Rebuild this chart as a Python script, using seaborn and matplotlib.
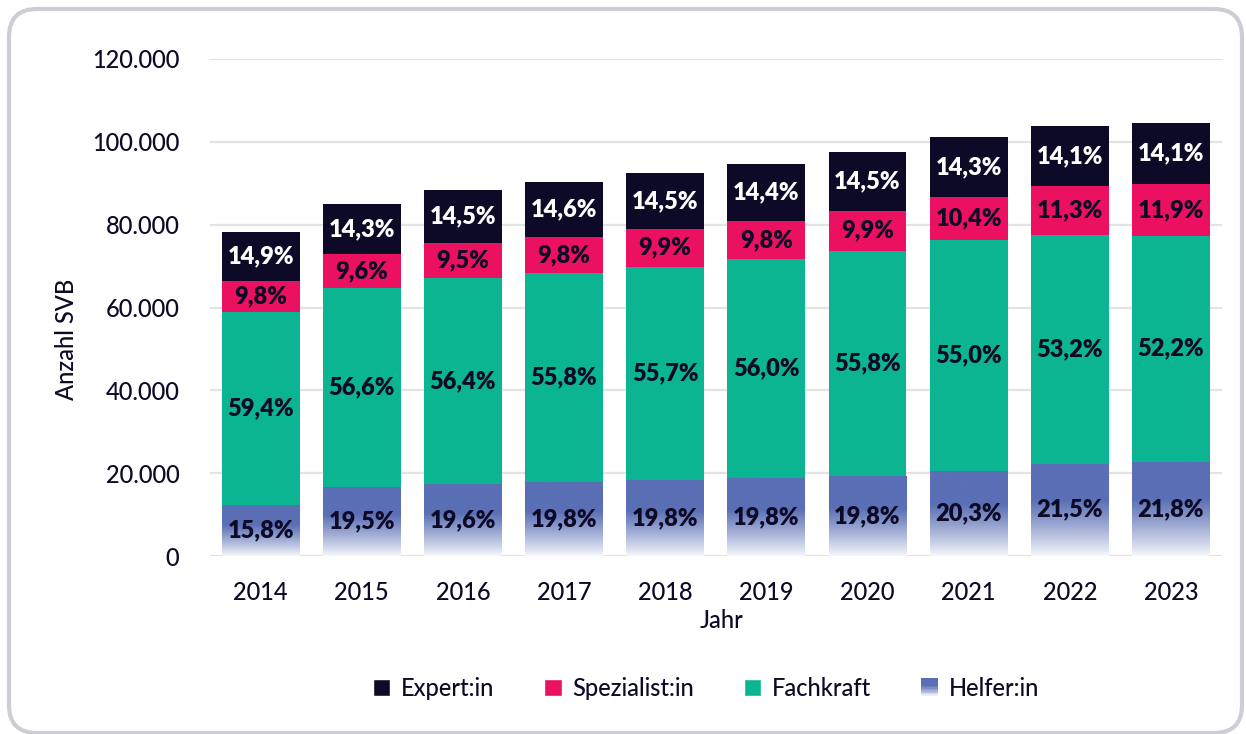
import numpy as np
import pandas as pd
import matplotlib
matplotlib.use("Agg")
import matplotlib.pyplot as plt
import seaborn as sns
from matplotlib.patches import FancyBboxPatch, Patch, Rectangle
from matplotlib.transforms import IdentityTransform
from matplotlib.colors import to_rgb
from matplotlib.legend_handler import HandlerBase

# ---------------- data ----------------
years = ["2014", "2015", "2016", "2017", "2018", "2019", "2020", "2021", "2022", "2023"]
totals = [78200, 85000, 88400, 90300, 92500, 94600, 97500, 101200, 103800, 104500]
pct_helfer = [15.8, 19.5, 19.6, 19.8, 19.8, 19.8, 19.8, 20.3, 21.5, 21.8]
pct_fachkraft = [59.4, 56.6, 56.4, 55.8, 55.7, 56.0, 55.8, 55.0, 53.2, 52.2]
pct_spezialist = [9.8, 9.6, 9.5, 9.8, 9.9, 9.8, 9.9, 10.4, 11.3, 11.9]
pct_expert = [14.9, 14.3, 14.5, 14.6, 14.5, 14.4, 14.5, 14.3, 14.1, 14.1]
series_names = ["Helfer:in", "Fachkraft", "Spezialist:in", "Expert:in"]
y_ticks = [0, 20000, 40000, 60000, 80000, 100000, 120000]

# ---------------- style ----------------
NAVY = "#0d0a26"
C_EXPERT = "#0c0a26"
C_SPEZ = "#ec1160"
C_FACH = "#0bb592"
C_HELF = "#5a6fb5"

sns.set_theme(style="white")
plt.rcParams["font.family"] = ["Lato", "DejaVu Sans"]
plt.rcParams["text.color"] = NAVY

fig = plt.figure(figsize=(12.46, 7.34), dpi=100)
ax = fig.add_axes([210 / 1246, (734 - 556) / 734, (1221.5 - 210) / 1246, (556 - 59) / 734])

pcts = [pct_helfer, pct_fachkraft, pct_spezialist, pct_expert]
colors = [C_HELF, C_FACH, C_SPEZ, C_EXPERT]
seg_vals = [[t * p / 100 for t, p in zip(totals, ps)] for ps in pcts]
cums = []
run = [0.0] * len(years)
for vals in seg_vals:
    run = [r + v for r, v in zip(run, vals)]
    cums.append(list(run))

BW = 0.77
containers = {}
for i in range(3, -1, -1):
    df = pd.DataFrame({"Jahr": years, "val": cums[i]})
    sns.barplot(data=df, x="Jahr", y="val", color=colors[i], saturation=1,
                width=BW, ax=ax, zorder=2, errorbar=None, linewidth=0, edgecolor="none")
    containers[i] = ax.containers[-1]

# gradient for Helfer bars
blue = np.array(to_rgb(C_HELF))
white = np.array([1.0, 1.0, 1.0])
n = 256
t = np.linspace(0, 1, n)  # 0 bottom -> 1 top
f = np.clip(t / 0.6, 0, 1) ** 0.9
f = 0.04 + 0.96 * f
grad = (white[None, :] * (1 - f[:, None]) + blue[None, :] * f[:, None])
grad_img = grad[::-1][:, None, :]
for p in containers[0].patches:
    x0, w, h = p.get_x(), p.get_width(), p.get_height()
    p.set_facecolor("none")
    p.set_edgecolor("none")
    im = ax.imshow(grad_img, extent=[x0, x0 + w, 0, h], aspect="auto",
                   zorder=2.5, interpolation="bilinear")
    im.set_clip_path(p)

# labels
for i in range(4):
    bottoms = [0.0] * len(years) if i == 0 else cums[i - 1]
    for j in range(len(years)):
        yc = bottoms[j] + seg_vals[i][j] / 2
        txt = f"{pcts[i][j]:.1f}".replace(".", ",") + "%"
        ax.text(j, yc, txt, ha="center", va="center", fontsize=17,
                fontweight="heavy", color="white" if i == 3 else NAVY, zorder=5)

ax.set_xlim(-0.5, len(years) - 0.5)
ax.set_ylim(0, 120000)
ax.set_yticks(y_ticks)
ax.set_yticklabels([f"{v:,}".replace(",", ".") for v in y_ticks])
ax.grid(axis="y", color="#e3e3e6", linewidth=1.6, zorder=0)
ax.grid(axis="x", visible=False)
ax.set_axisbelow(True)
for s in ax.spines.values():
    s.set_visible(False)
ax.tick_params(axis="both", length=0, labelsize=17, colors=NAVY)
ax.tick_params(axis="y", pad=22)
ax.tick_params(axis="x", pad=18)
for lbl in ax.get_xticklabels() + ax.get_yticklabels():
    lbl.set_fontweight("medium")
ax.set_xlabel("Jahr", fontsize=17, color=NAVY, fontweight="medium")
ax.xaxis.set_label_coords((722 - 210) / 1011.5, -(620 - 556) / 497)
ax.set_ylabel("Anzahl SVB", fontsize=17, color=NAVY, fontweight="medium")
ax.yaxis.set_label_coords((66 - 210) / 1011.5, (556 - 339) / 497)
ax.yaxis.label.set_va("center")
ax.xaxis.label.set_va("center")


class GradientHandler(HandlerBase):
    def create_artists(self, legend, orig_handle, xdescent, ydescent, width, height, fontsize, trans):
        arts = []
        k = 12
        for s in range(k):
            tt = (s + 0.5) / k
            ff = 0.04 + 0.96 * min(1.0, tt / 0.6) ** 0.9
            c = white * (1 - ff) + blue * ff
            r = Rectangle((-xdescent, -ydescent + height * s / k), width, height / k + 0.3,
                          facecolor=c, edgecolor="none", transform=trans)
            arts.append(r)
        return arts


handles = [Patch(facecolor=C_EXPERT), Patch(facecolor=C_SPEZ),
           Patch(facecolor=C_FACH), Patch(facecolor=C_HELF)]
labels = ["Expert:in", "Spezialist:in", "Fachkraft", "Helfer:in"]
fig.legend(handles, labels, loc="center", bbox_to_anchor=(706 / 1246, 46 / 734),
           ncol=4, frameon=False, prop={"size": 17, "weight": "medium"},
           handlelength=0.75, handleheight=0.75,
           handletextpad=0.45, columnspacing=2.1, labelcolor=NAVY,
           handler_map={handles[3]: GradientHandler()})

# rounded outer frame
frame = FancyBboxPatch((9, 1), 1233, 724, boxstyle="round,pad=0,rounding_size=28",
                       transform=IdentityTransform(), facecolor="none",
                       edgecolor="#cdcdd5", linewidth=3)
fig.patches.append(frame)

fig.savefig("out.png", dpi=100)
